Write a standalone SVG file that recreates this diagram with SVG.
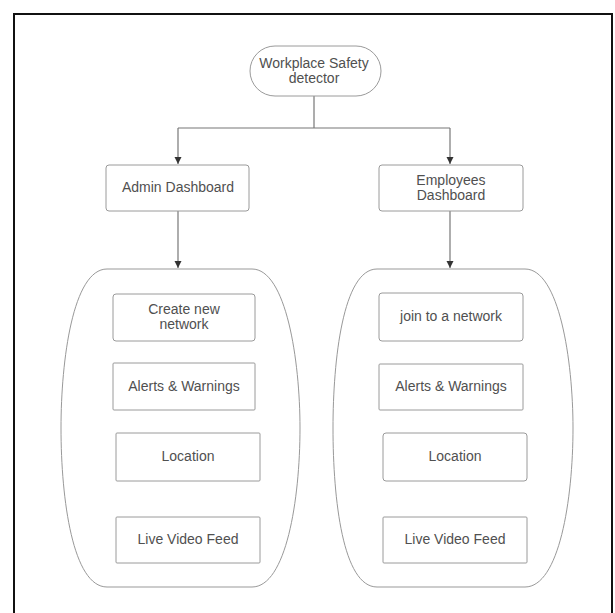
<svg xmlns="http://www.w3.org/2000/svg" width="615" height="613" viewBox="0 0 615 613">
<defs>
<marker id="arr" markerWidth="8" markerHeight="8" refX="7" refY="4" orient="auto" markerUnits="userSpaceOnUse">
<path d="M0,0.5 L7,4 L0,7.5 Z" fill="#333"/>
</marker>
<style>
.box{fill:#fff;stroke:#9a9a9a;stroke-width:1}
.cont{fill:#fff;stroke:#999;stroke-width:1}
.lbl{font-family:"Liberation Sans",Arial,sans-serif;font-size:14px;fill:#505050;text-anchor:middle}
.ln{fill:none;stroke:#777;stroke-width:1.2}
</style>
</defs>
<rect x="0" y="0" width="615" height="613" fill="#fff"/>
<rect x="14" y="14" width="598" height="612" fill="none" stroke="#111" stroke-width="2"/>

<g id="connectors">
<path class="ln" d="M314,96 V128 M178,128 H450"/>
<path class="ln" d="M178,128 V164" marker-end="url(#arr)"/>
<path class="ln" d="M450,128 V164" marker-end="url(#arr)"/>
<path class="ln" d="M178,211 V268" marker-end="url(#arr)"/>
<path class="ln" d="M450,211 V268" marker-end="url(#arr)"/>
</g>

<g id="root">
<rect class="box" x="250" y="46" width="131" height="50" rx="25"/>
<text class="lbl" x="314" y="68">Workplace Safety</text>
<text class="lbl" x="314" y="83">detector</text>
</g>

<g id="admin">
<rect class="box" x="106" y="165" width="143" height="46" rx="3"/>
<text class="lbl" x="178" y="192">Admin Dashboard</text>
</g>

<g id="employees">
<rect class="box" x="379" y="165" width="144" height="46" rx="3"/>
<text class="lbl" x="451" y="185">Employees</text>
<text class="lbl" x="451" y="200">Dashboard</text>
</g>

<g id="admin-group">
<path class="cont" d="M107,269 H252 C286,269 300,360 300,428 C300,500 286,587 252,587 H107 C73,587 61,500 61,428 C61,360 73,269 107,269 Z"/>
</g>

<g id="employee-group">
<path class="cont" d="M377,269 H525 C559,269 573,360 573,428 C573,500 559,587 525,587 H377 C343,587 333,500 333,428 C333,360 343,269 377,269 Z"/>
</g>

<g id="a-create">
<rect class="box" x="113" y="294" width="142" height="47" rx="3"/>
<text class="lbl" x="184" y="314">Create new</text>
<text class="lbl" x="184" y="329">network</text>
</g>
<g id="a-alerts">
<rect class="box" x="113" y="363" width="142" height="47" rx="1"/>
<text class="lbl" x="184" y="391">Alerts &amp; Warnings</text>
</g>
<g id="a-location">
<rect class="box" x="116" y="433" width="144" height="48" rx="1"/>
<text class="lbl" x="188" y="461">Location</text>
</g>
<g id="a-live">
<rect class="box" x="116" y="517" width="144" height="46" rx="1"/>
<text class="lbl" x="188" y="544">Live Video Feed</text>
</g>

<g id="e-join">
<rect class="box" x="379" y="293" width="144" height="48" rx="3"/>
<text class="lbl" x="451" y="321">join to a network</text>
</g>
<g id="e-alerts">
<rect class="box" x="379" y="364" width="144" height="46" rx="1"/>
<text class="lbl" x="451" y="391">Alerts &amp; Warnings</text>
</g>
<g id="e-location">
<rect class="box" x="383" y="433" width="144" height="48" rx="3"/>
<text class="lbl" x="455" y="461">Location</text>
</g>
<g id="e-live">
<rect class="box" x="383" y="517" width="144" height="46" rx="1"/>
<text class="lbl" x="455" y="544">Live Video Feed</text>
</g>
</svg>
